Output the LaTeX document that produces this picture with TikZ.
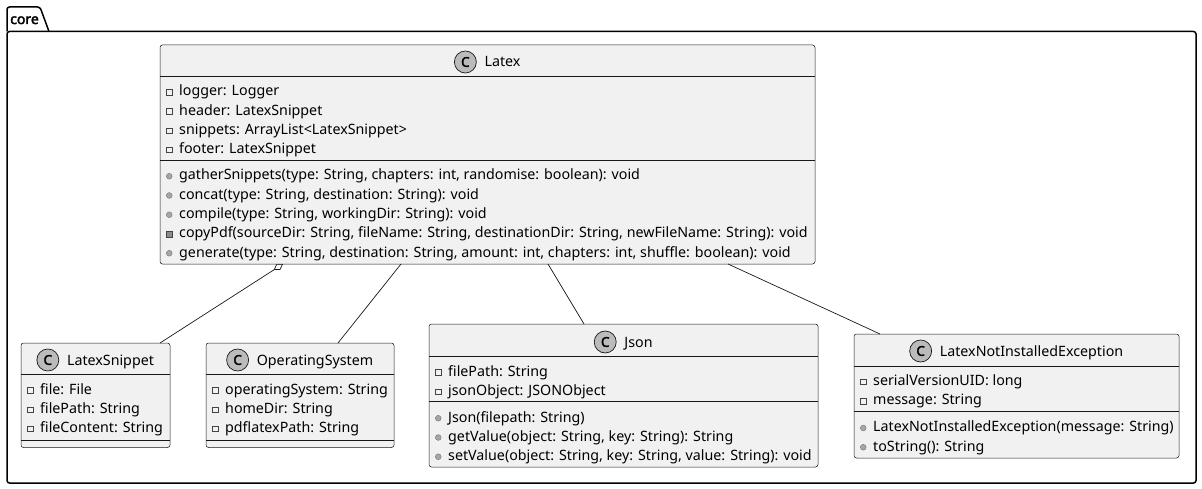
\documentclass[tikz,border=0pt]{standalone}
\usepackage{fontspec}
\setmainfont{Noto Sans}[AutoFakeBold=2.5]
\usetikzlibrary{arrows.meta,calc,fit}
\definecolor{boxfill}{HTML}{F1F1F1}
\definecolor{boxline}{HTML}{181818}
\definecolor{spotfill}{HTML}{BBBBBB}
\definecolor{iconline}{HTML}{444444}
\tikzset{
  classbox/.style={draw=boxline, fill=boxfill, line width=0.5pt, rounded corners=2.5pt, inner sep=0pt, outer sep=0pt},
  divider/.style={draw=boxline, line width=0.5pt},
  rowtxt/.style={anchor=base west, inner sep=0pt, font=\fontsize{14.25}{16}\selectfont, text=black},
  titletxt/.style={anchor=base, inner sep=0pt, font=\fontsize{14.25}{16}\selectfont, text=black},
  spot/.style={circle, draw=boxline, fill=spotfill, line width=0.7pt, minimum size=22pt, inner sep=0pt, font=\bfseries\fontsize{13.5}{13.5}\selectfont},
  fldicon/.style={draw=iconline, line width=0.5pt, fill=none},
  pubicon/.style={draw=black!55, fill=black!35, line width=0.4pt},
  privmicon/.style={draw=iconline, fill=black!45, line width=0.4pt},
  link/.style={draw=boxline, line width=0.7pt},
  pkg/.style={draw=black, line width=1.5pt},
}
\newcommand{\fieldrow}[4]{%
  \draw[fldicon] ({#2+6.5},{#3-5.5}) rectangle ({#2+12},{#3});
  \node[rowtxt] (#1) at ({#2+19},{#3+1}) {#4};}
\newcommand{\pubrow}[4]{%
  \filldraw[pubicon] ({#2+9.25},{#3-2.25}) circle (2.9pt);
  \node[rowtxt] (#1) at ({#2+19},{#3+1.5}) {#4};}
\newcommand{\privmrow}[4]{%
  \filldraw[privmicon] ({#2+6.5},{#3-5}) rectangle ({#2+12},{#3+0.5});
  \node[rowtxt] (#1) at ({#2+19},{#3+1.5}) {#4};}
\newcommand{\classhead}[4]{% name, center x, baseline, title
  \node[titletxt] (#1T) at (#2,{#3+1}) {\hspace*{30pt}#4};
  \node[spot] (#1C) at ($(#1T.base west)+(11,-5)$) {C};}

\begin{document}
\begin{tikzpicture}[x=1pt,y=-1pt]
\useasboundingbox (0,0) rectangle (1202,489);

% package
\draw[pkg, rounded corners=2.5pt] (7,31.5) -- (7,7) -- (40,7) -- (49,31.5);
\draw[pkg, rounded corners=2.5pt] (7,31.5) rectangle (1196,483);
\node[anchor=base west, inner sep=0pt, font=\bfseries\fontsize{14}{16}\selectfont] (pkgname) at (10,24) {core};

% Latex
\node[classbox, fit={(160,45) (815,264)}] (latex) {};
\classhead{latex}{487.5}{66}{Latex}
\draw[divider] (latex.west |- 0,76.5) -- (latex.east |- 0,76.5);
\draw[divider] (latex.west |- 0,160) -- (latex.east |- 0,160);
\fieldrow{la1}{160}{95}{logger: Logger}
\fieldrow{la2}{160}{114.25}{header: LatexSnippet}
\fieldrow{la3}{160}{133.5}{snippets: ArrayList<LatexSnippet>}
\fieldrow{la4}{160}{152.75}{footer: LatexSnippet}
\pubrow{lm1}{160}{178.5}{gatherSnippets(type: String, chapters: int, randomise: boolean): void}
\pubrow{lm2}{160}{197.75}{concat(type: String, destination: String): void}
\pubrow{lm3}{160}{217}{compile(type: String, workingDir: String): void}
\privmrow{lm4}{160}{236.25}{copyPdf(sourceDir: String, fileName: String, destinationDir: String, newFileName: String): void}
\pubrow{lm5}{160}{255.5}{generate(type: String, destination: String, amount: int, chapters: int, shuffle: boolean): void}

% LatexSnippet
\node[classbox, fit={(21,343) (170,447.5)}] (snip) {};
\classhead{snip}{95.5}{364}{LatexSnippet}
\draw[divider] (snip.west |- 0,374.5) -- (snip.east |- 0,374.5);
\draw[divider] (snip.west |- 0,440) -- (snip.east |- 0,440);
\fieldrow{sa1}{21}{393}{file: File}
\fieldrow{sa2}{21}{412.25}{filePath: String}
\fieldrow{sa3}{21}{431.5}{fileContent: String}

% OperatingSystem
\node[classbox, fit={(206,343) (394,447.5)}] (os) {};
\classhead{os}{300}{364}{OperatingSystem}
\draw[divider] (os.west |- 0,374.5) -- (os.east |- 0,374.5);
\draw[divider] (os.west |- 0,440) -- (os.east |- 0,440);
\fieldrow{oa1}{206}{393}{operatingSystem: String}
\fieldrow{oa2}{206}{412.25}{homeDir: String}
\fieldrow{oa3}{206}{431.5}{pdflatexPath: String}

% Json
\node[classbox, fit={(429,324) (818,467)}] (json) {};
\classhead{json}{623.5}{346}{Json}
\draw[divider] (json.west |- 0,356) -- (json.east |- 0,356);
\draw[divider] (json.west |- 0,401.5) -- (json.east |- 0,401.5);
\fieldrow{ja1}{429}{375}{filePath: String}
\fieldrow{ja2}{429}{394.25}{jsonObject: JSONObject}
\pubrow{jm1}{429}{420.5}{Json(filepath: String)}
\pubrow{jm2}{429}{439.75}{getValue(object: String, key: String): String}
\pubrow{jm3}{429}{459}{setValue(object: String, key: String, value: String): void}

% LatexNotInstalledException
\node[classbox, fit={(854,334) (1179,458)}] (lnie) {};
\classhead{lnie}{1016.5}{355}{LatexNotInstalledException}
\draw[divider] (lnie.west |- 0,366) -- (lnie.east |- 0,366);
\draw[divider] (lnie.west |- 0,411) -- (lnie.east |- 0,411);
\fieldrow{na1}{854}{384.5}{serialVersionUID: long}
\fieldrow{na2}{854}{403.75}{message: String}
\pubrow{nm1}{854}{430.25}{LatexNotInstalledException(message: String)}
\pubrow{nm2}{854}{449.5}{toString(): String}

% connectors
\draw[link, {Diamond[open, length=11pt, width=7pt, line width=0.7pt]}-] ($(latex.south west)+(123,0)$) -- ($(snip.north east)+(-10,0)$);
\draw[link] ($(latex.south west)+(241,0)$) -- ($(os.north west)+(132,0)$);
\draw[link] ($(latex.south west)+(388,0)$) -- ($(json.north west)+(155,0)$);
\draw[link] ($(latex.south west)+(568,0)$) -- ($(lnie.north west)+(26,0)$);
\end{tikzpicture}
\end{document}
